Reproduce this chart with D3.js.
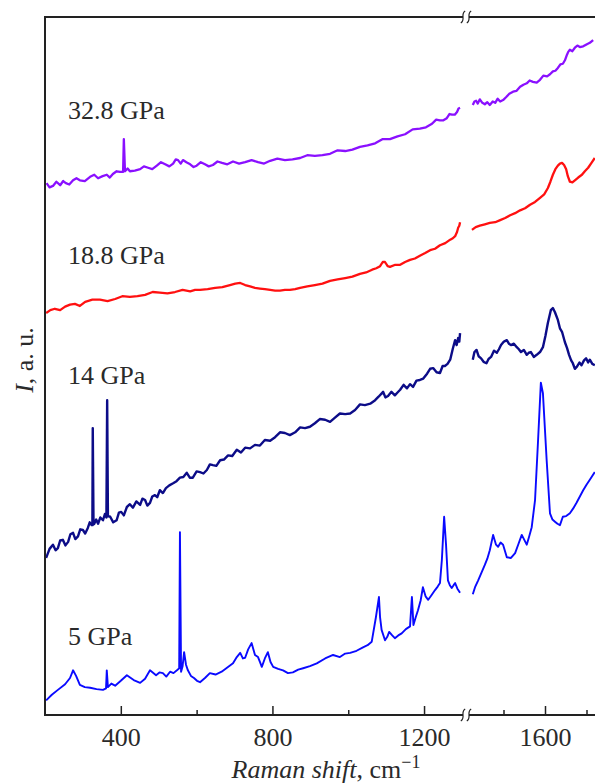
<!DOCTYPE html>
<html>
<head>
<meta charset="utf-8">
<script src="https://cdn.jsdelivr.net/npm/d3@7"></script>
<style>
  html, body { margin: 0; padding: 0; background: #fff; }
  svg { display: block; }
  text { font-family: "Liberation Serif", "Times New Roman", serif; fill: #2a2a2a; }
</style>
</head>
<body>
<script>
// ---------------- DATA ----------------
const majorTicksLeft = [400, 800, 1200];
const minorTicksLeft = [600, 1000];
const majorTicksRight = [1600];
const minorTicksRight = [1500, 1700];
const breakStart = 1312, breakEnd = 1412;

const seriesNames = ["5 GPa", "14 GPa", "18.8 GPa", "32.8 GPa"];

const shift5 = [203,218,234,253,266,274,282,292,305,319,336,353,361,363,366,375,385,400,416,434,451,464,477,493,502,511,520,530,539,548,554,556,559,563,567,572,577,585,593,601,609,622,635,650,666,681,696,706,715,722,728,736,745,754,762,767,772,780,788,795,802,815,828,841,854,868,881,899,917,939,960,978,992,1005,1022,1039,1051,1062,1073,1081,1084,1088,1097,1103,1108,1116,1123,1132,1141,1152,1163,1168,1172,1178,1184,1191,1197,1204,1211,1220,1229,1236,1242,1247,1253,1258,1263,1268,1273,1278,1282,1288,1295,
  1426,1432,1439,1447,1455,1461,1467,1475,1482,1487,1493,1499,1508,1518,1528,1536,1544,1556,1562,1568,1576,1583,1590,1595,1604,1612,1618,1624,1630,1636,1643,1651,1660,1668,1676,1684,1692,1700,1708,1720];
const int5 = [2.1,2.9,3.6,4.4,5.3,6.4,5.6,4.3,4.0,3.9,3.7,3.6,3.8,6.4,4.0,4.5,4.2,4.9,5.7,5.0,4.6,5.2,6.4,5.7,6.1,6.0,5.5,6.2,6.0,6.4,6.7,26.2,6.2,7.0,9.0,7.2,6.4,5.6,5.3,4.9,4.7,5.3,6.0,5.8,6.2,6.8,7.4,8.3,8.9,8.1,8.2,9.4,10.3,8.6,8.3,7.6,6.9,8.1,9.0,7.6,6.9,6.6,6.4,6.0,6.1,6.5,6.7,7.0,7.4,8.1,8.6,8.3,8.8,8.9,9.2,9.7,10.0,10.5,14.0,16.9,14.0,12.2,10.7,11.2,11.9,11.4,11.0,11.4,11.7,12.3,12.7,16.9,12.9,14.0,15.0,16.4,18.3,17.0,16.5,17.2,17.9,18.4,18.9,22.2,28.4,24.4,19.3,18.6,18.2,18.6,18.9,18.1,17.5,
  17.3,18.4,19.3,20.4,21.5,22.4,23.6,25.8,24.4,24.1,24.7,24.4,22.6,22.5,23.2,24.5,25.8,24.4,25.6,26.9,30.8,39.0,47.6,46.1,36.5,28.9,28.0,27.7,27.4,27.2,28.4,28.5,28.9,29.6,30.4,31.3,32.2,33.0,33.7,34.8];

const shift14 = [203,212,221,228,234,240,247,254,261,267,274,280,287,293,300,306,313,318,323,325,326,328,330,335,340,346,353,358,362,364,366,372,380,389,395,401,408,416,424,432,441,451,457,464,470,477,483,490,496,503,511,519,528,538,547,556,565,574,582,590,600,609,618,627,635,643,652,662,672,683,694,706,717,728,741,754,767,780,794,807,820,833,846,860,873,886,899,912,925,939,952,965,978,992,1005,1018,1031,1044,1058,1071,1080,1092,1098,1105,1114,1123,1130,1137,1146,1155,1163,1171,1180,1189,1198,1208,1216,1224,1233,1242,1249,1255,1262,1269,1276,1282,1286,1290,1293,1295,
  1426,1430,1435,1440,1446,1452,1459,1464,1470,1477,1484,1489,1494,1501,1508,1513,1518,1525,1532,1537,1542,1549,1556,1561,1566,1573,1580,1588,1595,1601,1607,1614,1619,1624,1631,1636,1641,1648,1653,1658,1663,1667,1672,1677,1683,1688,1694,1699,1704,1708,1714,1720];
const int14 = [22.5,23.8,24.4,23.6,23.9,25.0,25.1,24.3,24.8,25.9,26.1,25.2,25.6,26.6,26.5,26.0,26.8,27.6,27.2,27.2,41.1,27.3,27.4,28.0,27.4,28.3,27.9,28.8,28.3,45.1,28.5,28.4,27.6,27.9,29.0,29.1,28.6,29.8,30.2,29.7,30.6,30.1,31.0,30.8,30.0,30.4,31.3,31.5,31.2,32.2,31.8,32.5,32.9,33.2,33.5,34.0,34.1,34.7,34.0,34.0,34.9,34.8,34.6,35.1,35.9,35.8,35.7,36.5,36.6,37.2,37.1,38.0,37.6,38.3,38.2,38.7,38.6,39.4,39.3,39.8,40.5,40.4,40.1,40.5,41.2,41.1,41.3,41.8,42.4,42.3,42.0,42.6,43.2,43.1,43.2,43.7,44.5,44.4,44.6,45.1,45.6,46.3,45.5,45.7,46.3,45.8,46.2,46.6,47.3,46.8,47.4,47.0,47.9,48.0,48.2,48.9,49.6,49.7,49.1,49.0,50.0,50.0,50.3,50.9,52.5,53.7,53.0,54.0,53.5,54.7,
  50.9,52.0,52.3,51.4,51.1,50.6,50.4,51.0,51.3,52.2,51.9,52.4,53.0,53.5,53.7,53.2,53.0,53.2,52.7,52.4,52.0,52.3,51.6,51.9,52.0,51.3,51.6,52.0,52.7,54.3,56.2,58.0,58.3,57.7,56.6,55.4,54.9,53.4,52.6,51.6,50.8,50.4,49.6,49.9,50.5,50.1,50.8,51.1,50.5,50.9,50.3,50.1];

const shift18 = [203,214,226,240,253,266,279,292,306,325,345,365,385,404,424,444,464,484,503,523,543,563,583,596,609,629,649,668,688,702,715,728,741,754,767,780,794,807,820,833,846,860,873,892,912,932,952,972,992,1011,1031,1047,1063,1074,1084,1091,1097,1104,1110,1124,1137,1150,1163,1176,1189,1203,1216,1229,1242,1256,1269,1276,1282,1287,1290,1293,1295,
  1424,1433,1443,1455,1467,1480,1492,1504,1516,1528,1540,1552,1564,1576,1588,1598,1607,1613,1619,1625,1631,1636,1641,1646,1651,1655,1660,1666,1672,1680,1689,1696,1704,1712,1720];
const int18 = [57.6,58.0,58.2,58.0,58.5,58.8,58.9,58.6,59.2,59.5,59.5,59.3,59.6,60.0,59.9,60.0,60.2,60.6,60.5,60.4,60.6,60.9,60.7,60.9,60.9,61.0,61.2,61.3,61.6,61.8,61.9,61.6,61.4,61.2,61.1,61.0,60.9,60.8,60.8,60.9,60.9,61.0,61.2,61.4,61.6,61.8,62.2,62.4,62.6,62.8,63.2,63.4,63.8,64.0,64.3,64.9,64.9,64.3,64.2,64.5,64.5,64.9,65.2,65.4,65.8,66.2,66.6,66.8,67.3,67.6,68.1,68.3,68.6,69.2,69.8,70.1,70.6,
  69.5,69.9,70.1,70.3,70.5,70.6,70.9,71.2,71.6,71.9,72.3,72.6,73.1,73.5,74.1,74.6,75.5,76.4,77.4,78.2,78.7,79.0,79.1,78.8,78.2,77.2,76.4,76.3,76.6,77.0,77.4,77.9,78.4,79.1,79.8];

const shift32 = [204,212,221,230,240,248,255,264,274,283,292,305,319,330,340,352,363,371,379,389,398,406,408,411,418,424,437,451,461,472,483,495,506,517,528,538,545,551,558,564,573,583,592,600,611,622,632,643,655,667,681,696,712,728,745,762,778,794,813,833,853,873,892,912,932,952,972,992,1011,1031,1051,1071,1090,1110,1130,1150,1170,1189,1205,1221,1232,1242,1251,1260,1267,1274,1281,1287,1291,1295,
  1426,1430,1434,1438,1443,1449,1455,1461,1467,1474,1480,1486,1492,1499,1506,1514,1523,1531,1540,1548,1556,1563,1571,1580,1588,1596,1605,1612,1619,1625,1631,1637,1643,1648,1653,1656,1660,1666,1672,1678,1684,1692,1701,1708,1716];
const int32 = [76.2,75.6,75.8,76.4,75.9,76.5,76.2,76.0,76.6,76.9,76.6,76.5,77.1,77.4,76.9,77.2,77.4,77.0,77.5,77.9,77.8,77.8,82.5,77.9,78.3,77.9,78.0,78.2,78.6,78.4,78.2,78.7,79.2,78.9,78.6,79.0,79.6,79.5,79.0,79.5,79.2,78.9,78.5,78.7,79.2,78.9,78.6,78.8,79.3,79.1,78.9,79.3,79.0,79.2,79.5,79.2,79.0,79.4,79.7,79.5,79.6,79.8,80.2,80.1,80.2,80.4,80.9,80.8,81.0,81.4,81.6,81.9,82.5,82.5,82.9,83.2,83.9,84.0,84.2,84.7,85.3,85.2,85.2,85.5,86.1,86.0,86.0,86.4,86.9,87.0,
  87.4,87.9,88.0,87.6,88.2,87.7,87.5,87.8,87.4,87.9,87.7,88.3,87.9,88.1,88.5,89.0,89.3,89.4,90.0,90.3,90.5,90.9,90.7,90.6,91.0,91.6,91.5,91.8,92.2,92.3,92.7,93.2,93.3,93.8,94.6,95.0,95.3,95.1,95.6,95.9,95.7,95.8,96.1,96.3,96.7];

const colors = ["#0a0aff", "#0c0c88", "#ff1010", "#8a10ff"];
const widths = [1.9, 2.4, 2.3, 2.3];

// ---------------- LAYOUT ----------------
const W = 595, H = 783;
const plotLeft = 45, plotTop = 17, plotBottom = 715, plotRight = 600;
const breakX0 = 463, breakX1 = 469;

const svg = d3.select("body").append("svg").attr("width", W).attr("height", H);

const xL = d3.scaleLinear().domain([200, breakStart]).range([plotLeft, 466.5]);
const xR = d3.scaleLinear().domain([1600 - (545 - 467) / 0.415, 1600 + (plotRight - 545) / 0.415]).range([467, plotRight]);
const y = d3.scaleLinear().domain([0, 100]).range([plotBottom, plotTop]);

svg.append("clipPath").attr("id", "clip")
  .append("rect").attr("x", plotLeft + 1).attr("y", plotTop).attr("width", plotRight - plotLeft).attr("height", plotBottom - plotTop);

const seriesData = [
  d3.zip(shift5, int5), d3.zip(shift14, int14), d3.zip(shift18, int18), d3.zip(shift32, int32)
];

const g = svg.append("g").attr("clip-path", "url(#clip)");
seriesData.forEach((pts, i) => {
  const lineL = d3.line().x(d => xL(d[0])).y(d => y(d[1]));
  const lineR = d3.line().x(d => xR(d[0])).y(d => y(d[1]));
  g.append("path").datum(pts.filter(d => d[0] <= breakStart))
    .attr("d", lineL).attr("fill", "none").attr("stroke", colors[i])
    .attr("stroke-width", widths[i]).attr("stroke-linejoin", "round");
  g.append("path").datum(pts.filter(d => d[0] >= breakEnd))
    .attr("d", lineR).attr("fill", "none").attr("stroke", colors[i])
    .attr("stroke-width", widths[i]).attr("stroke-linejoin", "round");
});

// ---------------- FRAME ----------------
const axisColor = "#222";
const frame = svg.append("g").attr("stroke", axisColor).attr("stroke-width", 2).attr("fill", "none");
frame.append("line").attr("x1", plotLeft).attr("x2", plotLeft).attr("y1", plotTop - 1).attr("y2", plotBottom + 1);
[plotTop, plotBottom].forEach(yy => {
  frame.append("line").attr("x1", plotLeft - 1).attr("x2", breakX0).attr("y1", yy).attr("y2", yy);
  frame.append("line").attr("x1", breakX1).attr("x2", plotRight).attr("y1", yy).attr("y2", yy);
  [breakX0, breakX1].forEach(cx => {
    frame.append("path")
      .attr("d", `M${cx + 2.2},${yy - 6} C${cx - 3},${yy - 3} ${cx + 3},${yy + 3} ${cx - 2.2},${yy + 6}`)
      .attr("stroke-width", 1.2);
  });
});

// ---------------- AXES ----------------
function addAxis(scale, values, size, labels) {
  const ax = d3.axisBottom(scale).tickValues(values).tickSizeInner(-size).tickSizeOuter(0).tickPadding(13)
    .tickFormat(labels ? d3.format("d") : () => "");
  const a = svg.append("g").attr("transform", `translate(0,${plotBottom})`).call(ax);
  a.select(".domain").remove();
  a.selectAll(".tick line").attr("stroke", axisColor).attr("stroke-width", 1.5);
  a.selectAll(".tick text").attr("font-size", 26).attr("font-family", "Liberation Serif").attr("fill", "#2a2a2a");
}
addAxis(xL, majorTicksLeft, 9, true);
addAxis(xL, minorTicksLeft, 5, false);
addAxis(xR, majorTicksRight, 9, true);
addAxis(xR, minorTicksRight, 5, false);

// axis titles
const xt = svg.append("text").attr("x", 326).attr("y", 778).attr("text-anchor", "middle").attr("font-size", 26);
xt.append("tspan").attr("font-style", "italic").text("Raman shift");
xt.append("tspan").text(", cm");
xt.append("tspan").attr("font-size", 18).attr("dy", -10).text("\u22121");

const yt = svg.append("text").attr("transform", "translate(33,360) rotate(-90)").attr("text-anchor", "middle").attr("font-size", 26);
yt.append("tspan").attr("font-style", "italic").text("I");
yt.append("tspan").text(", a. u.");

// series labels
const labelY = [645, 384, 264, 119];
seriesNames.forEach((n, i) => {
  svg.append("text").attr("x", 68).attr("y", labelY[i]).attr("font-size", 26).text(n);
});
</script>
</body>
</html>
